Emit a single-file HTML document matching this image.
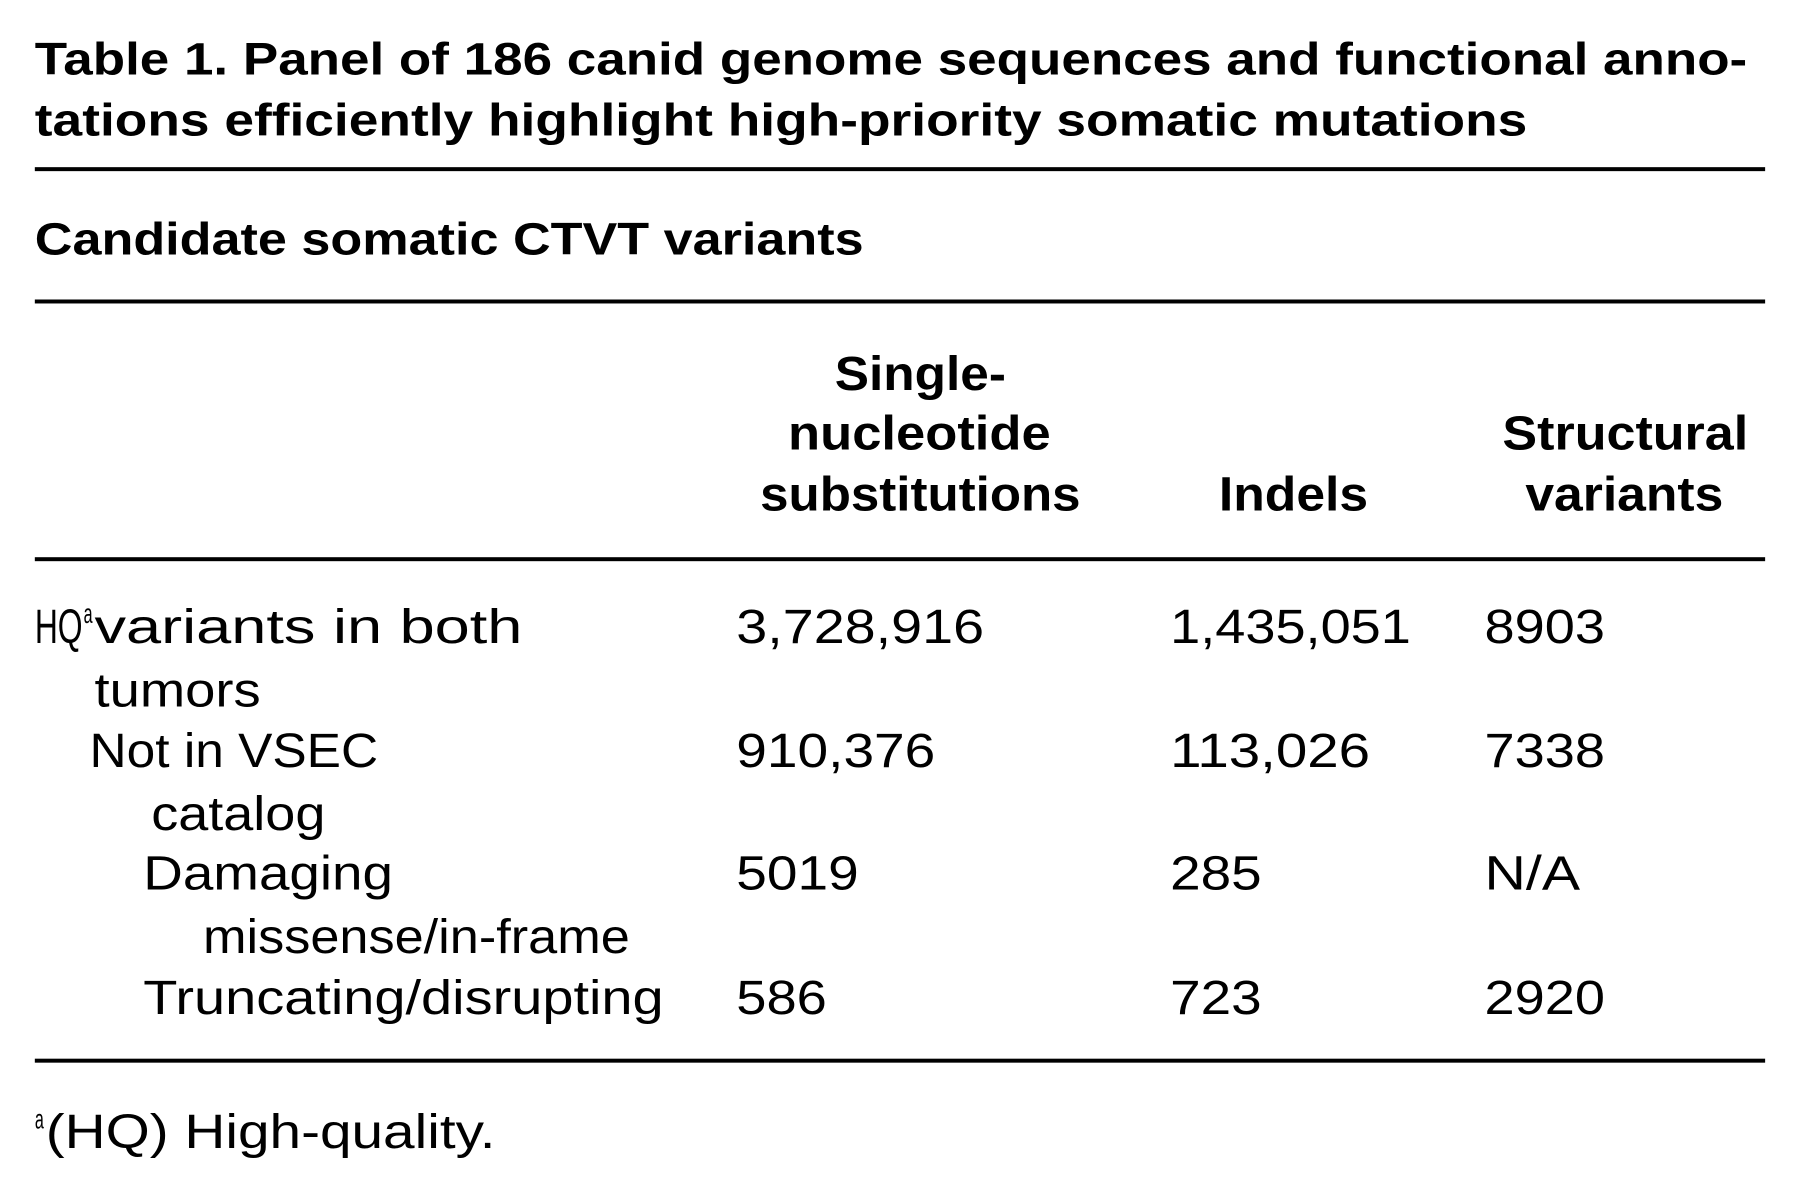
<!DOCTYPE html>
<html><head><meta charset="utf-8"><style>
html,body{margin:0;padding:0;background:#fff;width:1800px;height:1185px;overflow:hidden}
svg{display:block}
text{font-family:"Liberation Sans Narrow","Liberation Sans",sans-serif;fill:#000}
</style></head><body>
<svg width="1800" height="1185" viewBox="0 0 1800 1185">
<g transform="scale(0.995)">
<g font-weight="bold" font-size="46">
<text x="35" y="75" textLength="1721" lengthAdjust="spacingAndGlyphs">Table 1.   Panel of 186 canid genome sequences and functional anno-</text>
<text x="35" y="136" textLength="1500" lengthAdjust="spacingAndGlyphs">tations efficiently highlight high-priority somatic mutations</text>
</g>
<rect x="35" y="168" width="1739" height="4" fill="#000"/>
<text x="35" y="256" font-size="46" font-weight="bold" textLength="833" lengthAdjust="spacingAndGlyphs">Candidate somatic CTVT variants</text>
<rect x="35" y="301" width="1739" height="4" fill="#000"/>
<g font-size="48" font-weight="bold">
<text x="839" y="392" textLength="172" lengthAdjust="spacingAndGlyphs">Single-</text>
<text x="792" y="452" textLength="264" lengthAdjust="spacingAndGlyphs">nucleotide</text>
<text x="764" y="513" textLength="322" lengthAdjust="spacingAndGlyphs">substitutions</text>
<text x="1225" y="513" textLength="150" lengthAdjust="spacingAndGlyphs">Indels</text>
<text x="1510" y="452" textLength="247" lengthAdjust="spacingAndGlyphs">Structural</text>
<text x="1533" y="513" textLength="199" lengthAdjust="spacingAndGlyphs">variants</text>
</g>
<rect x="35" y="560" width="1739" height="4" fill="#000"/>
<g font-size="48">
<text x="35" y="646" textLength="48" lengthAdjust="spacingAndGlyphs">HQ</text>
<text x="84" y="626" font-size="28" textLength="9" lengthAdjust="spacingAndGlyphs">a</text>
<text x="95" y="646" textLength="430" lengthAdjust="spacingAndGlyphs">variants in both</text>
<text x="95" y="710" textLength="167" lengthAdjust="spacingAndGlyphs">tumors</text>
<text x="90" y="771" textLength="290" lengthAdjust="spacingAndGlyphs">Not in VSEC</text>
<text x="152" y="834" textLength="175" lengthAdjust="spacingAndGlyphs">catalog</text>
<text x="144" y="894" textLength="251" lengthAdjust="spacingAndGlyphs">Damaging</text>
<text x="204" y="958" textLength="429" lengthAdjust="spacingAndGlyphs">missense/in-frame</text>
<text x="144" y="1019" textLength="523" lengthAdjust="spacingAndGlyphs">Truncating/disrupting</text>
<text x="740" y="646" textLength="249" lengthAdjust="spacingAndGlyphs">3,728,916</text>
<text x="1176" y="646" textLength="242" lengthAdjust="spacingAndGlyphs">1,435,051</text>
<text x="1492" y="646" textLength="121" lengthAdjust="spacingAndGlyphs">8903</text>
<text x="740" y="771" textLength="200" lengthAdjust="spacingAndGlyphs">910,376</text>
<text x="1176" y="771" textLength="201" lengthAdjust="spacingAndGlyphs">113,026</text>
<text x="1492" y="771" textLength="121" lengthAdjust="spacingAndGlyphs">7338</text>
<text x="740" y="894" textLength="123" lengthAdjust="spacingAndGlyphs">5019</text>
<text x="1176" y="894" textLength="92" lengthAdjust="spacingAndGlyphs">285</text>
<text x="1492" y="894" textLength="96" lengthAdjust="spacingAndGlyphs">N/A</text>
<text x="740" y="1019" textLength="91" lengthAdjust="spacingAndGlyphs">586</text>
<text x="1176" y="1019" textLength="92" lengthAdjust="spacingAndGlyphs">723</text>
<text x="1492" y="1019" textLength="121" lengthAdjust="spacingAndGlyphs">2920</text>
</g>
<rect x="35" y="1064" width="1739" height="4" fill="#000"/>
<g font-size="48">
<text x="35" y="1134" font-size="28" textLength="9" lengthAdjust="spacingAndGlyphs">a</text>
<text x="46" y="1154" textLength="452" lengthAdjust="spacingAndGlyphs">(HQ) High-quality.</text>
</g>
</g>
</svg>
</body></html>
